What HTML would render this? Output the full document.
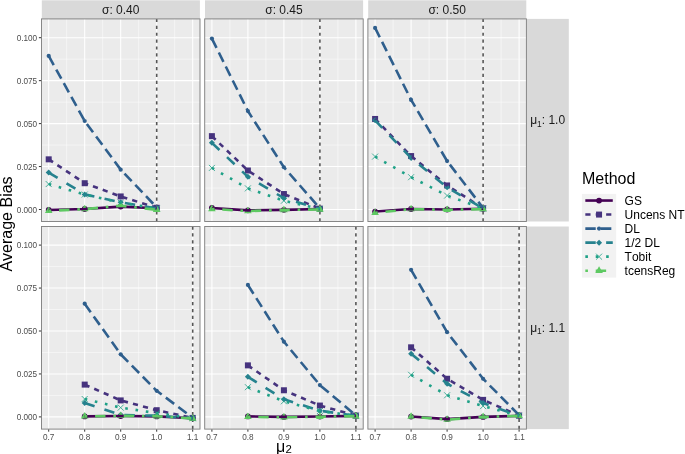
<!DOCTYPE html>
<html lang="en">
<head>
<meta charset="utf-8">
<title>Average Bias by Method</title>
<style>
html,body{margin:0;padding:0;background:#ffffff;}
body{width:685px;height:454px;overflow:hidden;}
svg{display:block;}
svg text{font-family:"Liberation Sans",sans-serif;font-kerning:none;}
.ax{font-size:8.2px;fill:#4d4d4d;}
.st{font-size:12px;fill:#1a1a1a;}
.sub{font-size:8.4px;}
.ti{font-size:16px;fill:#000000;}
.lt{font-size:16px;fill:#000000;}
.ll{font-size:12px;fill:#000000;}
</style>
</head>
<body>
<svg width="685" height="454" viewBox="0 0 685 454">
<rect x="0" y="0" width="685" height="454" fill="#ffffff"/>
<defs>
<clipPath id="cp00"><rect x="41.5" y="18.9" width="158.5" height="202.6"/></clipPath>
<clipPath id="cp01"><rect x="204.7" y="18.9" width="158.5" height="202.6"/></clipPath>
<clipPath id="cp02"><rect x="367.9" y="18.9" width="158.5" height="202.6"/></clipPath>
<clipPath id="cp10"><rect x="41.5" y="226.5" width="158.5" height="202.6"/></clipPath>
<clipPath id="cp11"><rect x="204.7" y="226.5" width="158.5" height="202.6"/></clipPath>
<clipPath id="cp12"><rect x="367.9" y="226.5" width="158.5" height="202.6"/></clipPath>
</defs>
<rect x="41.8" y="0.3" width="158.1" height="18.6" fill="#d9d9d9"/>
<text class="st" x="120.75" y="13.8" text-anchor="middle">σ: 0.40</text>
<rect x="205" y="0.3" width="158.1" height="18.6" fill="#d9d9d9"/>
<text class="st" x="283.95" y="13.8" text-anchor="middle">σ: 0.45</text>
<rect x="368.2" y="0.3" width="158.1" height="18.6" fill="#d9d9d9"/>
<text class="st" x="447.15" y="13.8" text-anchor="middle">σ: 0.50</text>
<rect x="526.4" y="18.9" width="42.4" height="202.6" fill="#d9d9d9"/>
<text class="st" x="530.2" y="123.9">μ<tspan class="sub" dy="2.6">1</tspan><tspan dy="-2.6">: 1.0</tspan></text>
<rect x="526.4" y="226.5" width="42.4" height="202.6" fill="#d9d9d9"/>
<text class="st" x="530.2" y="331.5">μ<tspan class="sub" dy="2.6">1</tspan><tspan dy="-2.6">: 1.1</tspan></text>
<g>
<rect x="41.5" y="18.9" width="158.5" height="202.6" fill="#ebebeb"/>
<path d="M41.5 188.03H200M41.5 145.07H200M41.5 102.12H200M41.5 59.18H200M66.7 18.9V221.5M102.7 18.9V221.5M138.7 18.9V221.5M174.7 18.9V221.5" stroke="#ffffff" stroke-width="0.55" stroke-opacity="0.9" fill="none"/>
<path d="M41.5 209.5H200M41.5 166.55H200M41.5 123.6H200M41.5 80.65H200M41.5 37.7H200M48.7 18.9V221.5M84.7 18.9V221.5M120.7 18.9V221.5M156.7 18.9V221.5M192.7 18.9V221.5" stroke="#ffffff" stroke-width="1.07" fill="none"/>
<path d="M156.7 18.9V221.5" stroke="#565656" stroke-width="1.6" stroke-dasharray="3.2 3.67" fill="none"/>
<g clip-path="url(#cp00)">
<circle cx="48.7" cy="210.02" r="2.9" fill="#440154"/>
<circle cx="84.7" cy="208.98" r="2.9" fill="#440154"/>
<circle cx="120.7" cy="206.58" r="2.9" fill="#440154"/>
<circle cx="156.7" cy="208.3" r="2.9" fill="#440154"/>
<rect x="45.7" y="156.33" width="6" height="6" fill="#46337e"/>
<rect x="81.7" y="180.21" width="6" height="6" fill="#46337e"/>
<rect x="117.7" y="193.44" width="6" height="6" fill="#46337e"/>
<rect x="153.7" y="204.78" width="6" height="6" fill="#46337e"/>
<circle cx="48.7" cy="55.91" r="2.1" fill="#2f5f8d"/>
<circle cx="84.7" cy="121.02" r="2.1" fill="#2f5f8d"/>
<circle cx="120.7" cy="169.64" r="2.1" fill="#2f5f8d"/>
<circle cx="156.7" cy="207.44" r="2.1" fill="#2f5f8d"/>
<path d="M48.7 169.56L51.7 172.56L48.7 175.56L45.7 172.56Z" fill="#26828e"/>
<path d="M84.7 191.38L87.7 194.38L84.7 197.38L81.7 194.38Z" fill="#26828e"/>
<path d="M120.7 199.28L123.7 202.28L120.7 205.28L117.7 202.28Z" fill="#26828e"/>
<path d="M156.7 205.47L159.7 208.47L156.7 211.47L153.7 208.47Z" fill="#26828e"/>
<path d="M45.7 181.07L51.7 187.07M45.7 187.07L51.7 181.07" stroke="#1fa187" stroke-width="0.8" fill="none"/>
<path d="M81.7 191.55L87.7 197.55M81.7 197.55L87.7 191.55" stroke="#1fa187" stroke-width="0.8" fill="none"/>
<path d="M117.7 199.63L123.7 205.63M117.7 205.63L123.7 199.63" stroke="#1fa187" stroke-width="0.8" fill="none"/>
<path d="M153.7 205.47L159.7 211.47M153.7 211.47L159.7 205.47" stroke="#1fa187" stroke-width="0.8" fill="none"/>
<path d="M48.7 206.47L52.51 213.07L44.89 213.07Z" fill="#5ec962"/>
<path d="M84.7 204.76L88.51 211.36L80.89 211.36Z" fill="#5ec962"/>
<path d="M120.7 201.32L124.51 207.92L116.89 207.92Z" fill="#5ec962"/>
<path d="M156.7 205.44L160.51 212.04L152.89 212.04Z" fill="#5ec962"/>
<path d="M48.7 210.02L84.7 208.98L120.7 206.58L156.7 208.3" stroke="#440154" stroke-width="2.6" stroke-linejoin="round" fill="none"/>
<path d="M48.7 159.33L84.7 183.21L120.7 196.44L156.7 207.78" stroke="#46337e" stroke-width="2.6" stroke-dasharray="5.2 5.2" stroke-linejoin="round" fill="none"/>
<path d="M48.7 55.91L84.7 121.02L120.7 169.64L156.7 207.44" stroke="#2f5f8d" stroke-width="2.6" stroke-dasharray="10.4 5.2" stroke-linejoin="round" fill="none"/>
<path d="M48.7 172.56L84.7 194.38L120.7 202.28L156.7 208.47" stroke="#26828e" stroke-width="2.6" stroke-dasharray="10.4 10.4" stroke-linejoin="round" fill="none"/>
<path d="M48.7 184.07L84.7 194.55L120.7 202.63L156.7 208.47" stroke="#1fa187" stroke-width="2.6" stroke-dasharray="2.6 7.8" stroke-linejoin="round" fill="none"/>
<path d="M48.7 210.87L84.7 209.16L120.7 205.72L156.7 209.84" stroke="#5ec962" stroke-width="2.6" stroke-dasharray="2.6 7.8 10.4 7.8" stroke-linejoin="round" fill="none"/>
</g>
<rect x="41.5" y="18.9" width="158.5" height="202.6" fill="none" stroke="#828282" stroke-width="0.95"/>
</g>
<g>
<rect x="204.7" y="18.9" width="158.5" height="202.6" fill="#ebebeb"/>
<path d="M204.7 188.03H363.2M204.7 145.07H363.2M204.7 102.12H363.2M204.7 59.18H363.2M229.9 18.9V221.5M265.9 18.9V221.5M301.9 18.9V221.5M337.9 18.9V221.5" stroke="#ffffff" stroke-width="0.55" stroke-opacity="0.9" fill="none"/>
<path d="M204.7 209.5H363.2M204.7 166.55H363.2M204.7 123.6H363.2M204.7 80.65H363.2M204.7 37.7H363.2M211.9 18.9V221.5M247.9 18.9V221.5M283.9 18.9V221.5M319.9 18.9V221.5M355.9 18.9V221.5" stroke="#ffffff" stroke-width="1.07" fill="none"/>
<path d="M319.9 18.9V221.5" stroke="#565656" stroke-width="1.6" stroke-dasharray="3.2 3.67" fill="none"/>
<g clip-path="url(#cp01)">
<circle cx="211.9" cy="207.95" r="2.9" fill="#440154"/>
<circle cx="247.9" cy="210.36" r="2.9" fill="#440154"/>
<circle cx="283.9" cy="209.84" r="2.9" fill="#440154"/>
<circle cx="319.9" cy="208.98" r="2.9" fill="#440154"/>
<rect x="208.9" y="133.14" width="6" height="6" fill="#46337e"/>
<rect x="244.9" y="167.5" width="6" height="6" fill="#46337e"/>
<rect x="280.9" y="191.04" width="6" height="6" fill="#46337e"/>
<rect x="316.9" y="205.64" width="6" height="6" fill="#46337e"/>
<circle cx="211.9" cy="38.56" r="2.1" fill="#2f5f8d"/>
<circle cx="247.9" cy="111.06" r="2.1" fill="#2f5f8d"/>
<circle cx="283.9" cy="167.24" r="2.1" fill="#2f5f8d"/>
<circle cx="319.9" cy="208.3" r="2.1" fill="#2f5f8d"/>
<path d="M211.9 139.84L214.9 142.84L211.9 145.84L208.9 142.84Z" fill="#26828e"/>
<path d="M247.9 173.86L250.9 176.86L247.9 179.86L244.9 176.86Z" fill="#26828e"/>
<path d="M283.9 195.16L286.9 198.16L283.9 201.16L280.9 198.16Z" fill="#26828e"/>
<path d="M319.9 205.98L322.9 208.98L319.9 211.98L316.9 208.98Z" fill="#26828e"/>
<path d="M208.9 164.92L214.9 170.92M208.9 170.92L214.9 164.92" stroke="#1fa187" stroke-width="0.8" fill="none"/>
<path d="M244.9 185.37L250.9 191.37M244.9 191.37L250.9 185.37" stroke="#1fa187" stroke-width="0.8" fill="none"/>
<path d="M280.9 197.74L286.9 203.74M280.9 203.74L286.9 197.74" stroke="#1fa187" stroke-width="0.8" fill="none"/>
<path d="M316.9 205.98L322.9 211.98M316.9 211.98L322.9 205.98" stroke="#1fa187" stroke-width="0.8" fill="none"/>
<path d="M211.9 204.58L215.71 211.18L208.09 211.18Z" fill="#5ec962"/>
<path d="M247.9 206.65L251.71 213.25L244.09 213.25Z" fill="#5ec962"/>
<path d="M283.9 205.62L287.71 212.22L280.09 212.22Z" fill="#5ec962"/>
<path d="M319.9 205.1L323.71 211.7L316.09 211.7Z" fill="#5ec962"/>
<path d="M211.9 207.95L247.9 210.36L283.9 209.84L319.9 208.98" stroke="#440154" stroke-width="2.6" stroke-linejoin="round" fill="none"/>
<path d="M211.9 136.14L247.9 170.5L283.9 194.04L319.9 208.64" stroke="#46337e" stroke-width="2.6" stroke-dasharray="5.2 5.2" stroke-linejoin="round" fill="none"/>
<path d="M211.9 38.56L247.9 111.06L283.9 167.24L319.9 208.3" stroke="#2f5f8d" stroke-width="2.6" stroke-dasharray="10.4 5.2" stroke-linejoin="round" fill="none"/>
<path d="M211.9 142.84L247.9 176.86L283.9 198.16L319.9 208.98" stroke="#26828e" stroke-width="2.6" stroke-dasharray="10.4 10.4" stroke-linejoin="round" fill="none"/>
<path d="M211.9 167.92L247.9 188.37L283.9 200.74L319.9 208.98" stroke="#1fa187" stroke-width="2.6" stroke-dasharray="2.6 7.8" stroke-linejoin="round" fill="none"/>
<path d="M211.9 208.98L247.9 211.05L283.9 210.02L319.9 209.5" stroke="#5ec962" stroke-width="2.6" stroke-dasharray="2.6 7.8 10.4 7.8" stroke-linejoin="round" fill="none"/>
</g>
<rect x="204.7" y="18.9" width="158.5" height="202.6" fill="none" stroke="#828282" stroke-width="0.95"/>
</g>
<g>
<rect x="367.9" y="18.9" width="158.5" height="202.6" fill="#ebebeb"/>
<path d="M367.9 188.03H526.4M367.9 145.07H526.4M367.9 102.12H526.4M367.9 59.18H526.4M393.1 18.9V221.5M429.1 18.9V221.5M465.1 18.9V221.5M501.1 18.9V221.5" stroke="#ffffff" stroke-width="0.55" stroke-opacity="0.9" fill="none"/>
<path d="M367.9 209.5H526.4M367.9 166.55H526.4M367.9 123.6H526.4M367.9 80.65H526.4M367.9 37.7H526.4M375.1 18.9V221.5M411.1 18.9V221.5M447.1 18.9V221.5M483.1 18.9V221.5M519.1 18.9V221.5" stroke="#ffffff" stroke-width="1.07" fill="none"/>
<path d="M483.1 18.9V221.5" stroke="#565656" stroke-width="1.6" stroke-dasharray="3.2 3.67" fill="none"/>
<g clip-path="url(#cp02)">
<circle cx="375.1" cy="211.56" r="2.9" fill="#440154"/>
<circle cx="411.1" cy="208.98" r="2.9" fill="#440154"/>
<circle cx="447.1" cy="209.5" r="2.9" fill="#440154"/>
<circle cx="483.1" cy="208.81" r="2.9" fill="#440154"/>
<rect x="372.1" y="115.96" width="6" height="6" fill="#46337e"/>
<rect x="408.1" y="153.07" width="6" height="6" fill="#46337e"/>
<rect x="444.1" y="182.45" width="6" height="6" fill="#46337e"/>
<rect x="480.1" y="205.3" width="6" height="6" fill="#46337e"/>
<circle cx="375.1" cy="27.91" r="2.1" fill="#2f5f8d"/>
<circle cx="411.1" cy="99.89" r="2.1" fill="#2f5f8d"/>
<circle cx="447.1" cy="161.05" r="2.1" fill="#2f5f8d"/>
<circle cx="483.1" cy="207.95" r="2.1" fill="#2f5f8d"/>
<path d="M375.1 117.34L378.1 120.34L375.1 123.34L372.1 120.34Z" fill="#26828e"/>
<path d="M411.1 154.96L414.1 157.96L411.1 160.96L408.1 157.96Z" fill="#26828e"/>
<path d="M447.1 184.34L450.1 187.34L447.1 190.34L444.1 187.34Z" fill="#26828e"/>
<path d="M483.1 205.47L486.1 208.47L483.1 211.47L480.1 208.47Z" fill="#26828e"/>
<path d="M372.1 153.59L378.1 159.59M372.1 159.59L378.1 153.59" stroke="#1fa187" stroke-width="0.8" fill="none"/>
<path d="M408.1 174.2L414.1 180.2M408.1 180.2L414.1 174.2" stroke="#1fa187" stroke-width="0.8" fill="none"/>
<path d="M444.1 192.58L450.1 198.58M444.1 198.58L450.1 192.58" stroke="#1fa187" stroke-width="0.8" fill="none"/>
<path d="M480.1 205.47L486.1 211.47M480.1 211.47L486.1 205.47" stroke="#1fa187" stroke-width="0.8" fill="none"/>
<path d="M375.1 208.36L378.91 214.96L371.29 214.96Z" fill="#5ec962"/>
<path d="M411.1 204.76L414.91 211.36L407.29 211.36Z" fill="#5ec962"/>
<path d="M447.1 205.44L450.91 212.04L443.29 212.04Z" fill="#5ec962"/>
<path d="M483.1 204.76L486.91 211.36L479.29 211.36Z" fill="#5ec962"/>
<path d="M375.1 211.56L411.1 208.98L447.1 209.5L483.1 208.81" stroke="#440154" stroke-width="2.6" stroke-linejoin="round" fill="none"/>
<path d="M375.1 118.96L411.1 156.07L447.1 185.45L483.1 208.3" stroke="#46337e" stroke-width="2.6" stroke-dasharray="5.2 5.2" stroke-linejoin="round" fill="none"/>
<path d="M375.1 27.91L411.1 99.89L447.1 161.05L483.1 207.95" stroke="#2f5f8d" stroke-width="2.6" stroke-dasharray="10.4 5.2" stroke-linejoin="round" fill="none"/>
<path d="M375.1 120.34L411.1 157.96L447.1 187.34L483.1 208.47" stroke="#26828e" stroke-width="2.6" stroke-dasharray="10.4 10.4" stroke-linejoin="round" fill="none"/>
<path d="M375.1 156.59L411.1 177.2L447.1 195.58L483.1 208.47" stroke="#1fa187" stroke-width="2.6" stroke-dasharray="2.6 7.8" stroke-linejoin="round" fill="none"/>
<path d="M375.1 212.76L411.1 209.16L447.1 209.84L483.1 209.16" stroke="#5ec962" stroke-width="2.6" stroke-dasharray="2.6 7.8 10.4 7.8" stroke-linejoin="round" fill="none"/>
</g>
<rect x="367.9" y="18.9" width="158.5" height="202.6" fill="none" stroke="#828282" stroke-width="0.95"/>
</g>
<g>
<rect x="41.5" y="226.5" width="158.5" height="202.6" fill="#ebebeb"/>
<path d="M41.5 395.42H200M41.5 352.47H200M41.5 309.52H200M41.5 266.57H200M66.7 226.5V429.1M102.7 226.5V429.1M138.7 226.5V429.1M174.7 226.5V429.1" stroke="#ffffff" stroke-width="0.55" stroke-opacity="0.9" fill="none"/>
<path d="M41.5 416.9H200M41.5 373.95H200M41.5 331H200M41.5 288.05H200M41.5 245.1H200M48.7 226.5V429.1M84.7 226.5V429.1M120.7 226.5V429.1M156.7 226.5V429.1M192.7 226.5V429.1" stroke="#ffffff" stroke-width="1.07" fill="none"/>
<path d="M192.7 226.5V429.1" stroke="#565656" stroke-width="1.6" stroke-dasharray="3.2 3.67" fill="none"/>
<g clip-path="url(#cp10)">
<circle cx="84.7" cy="416.38" r="2.9" fill="#440154"/>
<circle cx="120.7" cy="416.04" r="2.9" fill="#440154"/>
<circle cx="156.7" cy="416.38" r="2.9" fill="#440154"/>
<circle cx="192.7" cy="418.27" r="2.9" fill="#440154"/>
<rect x="81.7" y="381.6" width="6" height="6" fill="#46337e"/>
<rect x="117.7" y="397.41" width="6" height="6" fill="#46337e"/>
<rect x="153.7" y="407.2" width="6" height="6" fill="#46337e"/>
<rect x="189.7" y="414.93" width="6" height="6" fill="#46337e"/>
<circle cx="84.7" cy="303.68" r="2.1" fill="#2f5f8d"/>
<circle cx="120.7" cy="354.36" r="2.1" fill="#2f5f8d"/>
<circle cx="156.7" cy="390.79" r="2.1" fill="#2f5f8d"/>
<circle cx="192.7" cy="417.76" r="2.1" fill="#2f5f8d"/>
<path d="M84.7 399.98L87.7 402.98L84.7 405.98L81.7 402.98Z" fill="#26828e"/>
<path d="M120.7 411.84L123.7 414.84L120.7 417.84L117.7 414.84Z" fill="#26828e"/>
<path d="M156.7 412.7L159.7 415.7L156.7 418.7L153.7 415.7Z" fill="#26828e"/>
<path d="M192.7 415.45L195.7 418.45L192.7 421.45L189.7 418.45Z" fill="#26828e"/>
<path d="M81.7 396.03L87.7 402.03M81.7 402.03L87.7 396.03" stroke="#1fa187" stroke-width="0.8" fill="none"/>
<path d="M117.7 404.62L123.7 410.62M117.7 410.62L123.7 404.62" stroke="#1fa187" stroke-width="0.8" fill="none"/>
<path d="M153.7 410.12L159.7 416.12M153.7 416.12L159.7 410.12" stroke="#1fa187" stroke-width="0.8" fill="none"/>
<path d="M189.7 415.27L195.7 421.27M189.7 421.27L195.7 415.27" stroke="#1fa187" stroke-width="0.8" fill="none"/>
<path d="M84.7 411.98L88.51 418.58L80.89 418.58Z" fill="#5ec962"/>
<path d="M120.7 411.47L124.51 418.07L116.89 418.07Z" fill="#5ec962"/>
<path d="M156.7 411.81L160.51 418.41L152.89 418.41Z" fill="#5ec962"/>
<path d="M192.7 414.05L196.51 420.65L188.89 420.65Z" fill="#5ec962"/>
<path d="M84.7 416.38L120.7 416.04L156.7 416.38L192.7 418.27" stroke="#440154" stroke-width="2.6" stroke-linejoin="round" fill="none"/>
<path d="M84.7 384.6L120.7 400.41L156.7 410.2L192.7 417.93" stroke="#46337e" stroke-width="2.6" stroke-dasharray="5.2 5.2" stroke-linejoin="round" fill="none"/>
<path d="M84.7 303.68L120.7 354.36L156.7 390.79L192.7 417.76" stroke="#2f5f8d" stroke-width="2.6" stroke-dasharray="10.4 5.2" stroke-linejoin="round" fill="none"/>
<path d="M84.7 402.98L120.7 414.84L156.7 415.7L192.7 418.45" stroke="#26828e" stroke-width="2.6" stroke-dasharray="10.4 10.4" stroke-linejoin="round" fill="none"/>
<path d="M84.7 399.03L120.7 407.62L156.7 413.12L192.7 418.27" stroke="#1fa187" stroke-width="2.6" stroke-dasharray="2.6 7.8" stroke-linejoin="round" fill="none"/>
<path d="M84.7 416.38L120.7 415.87L156.7 416.21L192.7 418.45" stroke="#5ec962" stroke-width="2.6" stroke-dasharray="2.6 7.8 10.4 7.8" stroke-linejoin="round" fill="none"/>
</g>
<rect x="41.5" y="226.5" width="158.5" height="202.6" fill="none" stroke="#828282" stroke-width="0.95"/>
</g>
<g>
<rect x="204.7" y="226.5" width="158.5" height="202.6" fill="#ebebeb"/>
<path d="M204.7 395.42H363.2M204.7 352.47H363.2M204.7 309.52H363.2M204.7 266.57H363.2M229.9 226.5V429.1M265.9 226.5V429.1M301.9 226.5V429.1M337.9 226.5V429.1" stroke="#ffffff" stroke-width="0.55" stroke-opacity="0.9" fill="none"/>
<path d="M204.7 416.9H363.2M204.7 373.95H363.2M204.7 331H363.2M204.7 288.05H363.2M204.7 245.1H363.2M211.9 226.5V429.1M247.9 226.5V429.1M283.9 226.5V429.1M319.9 226.5V429.1M355.9 226.5V429.1" stroke="#ffffff" stroke-width="1.07" fill="none"/>
<path d="M355.9 226.5V429.1" stroke="#565656" stroke-width="1.6" stroke-dasharray="3.2 3.67" fill="none"/>
<g clip-path="url(#cp11)">
<circle cx="247.9" cy="416.38" r="2.9" fill="#440154"/>
<circle cx="283.9" cy="416.9" r="2.9" fill="#440154"/>
<circle cx="319.9" cy="416.56" r="2.9" fill="#440154"/>
<circle cx="355.9" cy="415.87" r="2.9" fill="#440154"/>
<rect x="244.9" y="362.36" width="6" height="6" fill="#46337e"/>
<rect x="280.9" y="387.27" width="6" height="6" fill="#46337e"/>
<rect x="316.9" y="402.56" width="6" height="6" fill="#46337e"/>
<rect x="352.9" y="412.53" width="6" height="6" fill="#46337e"/>
<circle cx="247.9" cy="284.96" r="2.1" fill="#2f5f8d"/>
<circle cx="283.9" cy="341.65" r="2.1" fill="#2f5f8d"/>
<circle cx="319.9" cy="385.12" r="2.1" fill="#2f5f8d"/>
<circle cx="355.9" cy="415.35" r="2.1" fill="#2f5f8d"/>
<path d="M247.9 373.87L250.9 376.87L247.9 379.87L244.9 376.87Z" fill="#26828e"/>
<path d="M283.9 396.2L286.9 399.2L283.9 402.2L280.9 399.2Z" fill="#26828e"/>
<path d="M319.9 407.72L322.9 410.72L319.9 413.72L316.9 410.72Z" fill="#26828e"/>
<path d="M355.9 412.87L358.9 415.87L355.9 418.87L352.9 415.87Z" fill="#26828e"/>
<path d="M244.9 384.18L250.9 390.18M244.9 390.18L250.9 384.18" stroke="#1fa187" stroke-width="0.8" fill="none"/>
<path d="M280.9 398.27L286.9 404.27M280.9 404.27L286.9 398.27" stroke="#1fa187" stroke-width="0.8" fill="none"/>
<path d="M316.9 408.06L322.9 414.06M316.9 414.06L322.9 408.06" stroke="#1fa187" stroke-width="0.8" fill="none"/>
<path d="M352.9 412.87L358.9 418.87M352.9 418.87L358.9 412.87" stroke="#1fa187" stroke-width="0.8" fill="none"/>
<path d="M247.9 412.5L251.71 419.1L244.09 419.1Z" fill="#5ec962"/>
<path d="M283.9 412.84L287.71 419.44L280.09 419.44Z" fill="#5ec962"/>
<path d="M319.9 412.33L323.71 418.93L316.09 418.93Z" fill="#5ec962"/>
<path d="M355.9 411.81L359.71 418.41L352.09 418.41Z" fill="#5ec962"/>
<path d="M247.9 416.38L283.9 416.9L319.9 416.56L355.9 415.87" stroke="#440154" stroke-width="2.6" stroke-linejoin="round" fill="none"/>
<path d="M247.9 365.36L283.9 390.27L319.9 405.56L355.9 415.53" stroke="#46337e" stroke-width="2.6" stroke-dasharray="5.2 5.2" stroke-linejoin="round" fill="none"/>
<path d="M247.9 284.96L283.9 341.65L319.9 385.12L355.9 415.35" stroke="#2f5f8d" stroke-width="2.6" stroke-dasharray="10.4 5.2" stroke-linejoin="round" fill="none"/>
<path d="M247.9 376.87L283.9 399.2L319.9 410.72L355.9 415.87" stroke="#26828e" stroke-width="2.6" stroke-dasharray="10.4 10.4" stroke-linejoin="round" fill="none"/>
<path d="M247.9 387.18L283.9 401.27L319.9 411.06L355.9 415.87" stroke="#1fa187" stroke-width="2.6" stroke-dasharray="2.6 7.8" stroke-linejoin="round" fill="none"/>
<path d="M247.9 416.9L283.9 417.24L319.9 416.73L355.9 416.21" stroke="#5ec962" stroke-width="2.6" stroke-dasharray="2.6 7.8 10.4 7.8" stroke-linejoin="round" fill="none"/>
</g>
<rect x="204.7" y="226.5" width="158.5" height="202.6" fill="none" stroke="#828282" stroke-width="0.95"/>
</g>
<g>
<rect x="367.9" y="226.5" width="158.5" height="202.6" fill="#ebebeb"/>
<path d="M367.9 395.42H526.4M367.9 352.47H526.4M367.9 309.52H526.4M367.9 266.57H526.4M393.1 226.5V429.1M429.1 226.5V429.1M465.1 226.5V429.1M501.1 226.5V429.1" stroke="#ffffff" stroke-width="0.55" stroke-opacity="0.9" fill="none"/>
<path d="M367.9 416.9H526.4M367.9 373.95H526.4M367.9 331H526.4M367.9 288.05H526.4M367.9 245.1H526.4M375.1 226.5V429.1M411.1 226.5V429.1M447.1 226.5V429.1M483.1 226.5V429.1M519.1 226.5V429.1" stroke="#ffffff" stroke-width="1.07" fill="none"/>
<path d="M519.1 226.5V429.1" stroke="#565656" stroke-width="1.6" stroke-dasharray="3.2 3.67" fill="none"/>
<g clip-path="url(#cp12)">
<circle cx="411.1" cy="416.56" r="2.9" fill="#440154"/>
<circle cx="447.1" cy="419.13" r="2.9" fill="#440154"/>
<circle cx="483.1" cy="416.9" r="2.9" fill="#440154"/>
<circle cx="519.1" cy="415.87" r="2.9" fill="#440154"/>
<rect x="408.1" y="344.32" width="6" height="6" fill="#46337e"/>
<rect x="444.1" y="375.76" width="6" height="6" fill="#46337e"/>
<rect x="480.1" y="396.89" width="6" height="6" fill="#46337e"/>
<rect x="516.1" y="412.53" width="6" height="6" fill="#46337e"/>
<circle cx="411.1" cy="269.84" r="2.1" fill="#2f5f8d"/>
<circle cx="447.1" cy="332.2" r="2.1" fill="#2f5f8d"/>
<circle cx="483.1" cy="378.76" r="2.1" fill="#2f5f8d"/>
<circle cx="519.1" cy="415.18" r="2.1" fill="#2f5f8d"/>
<path d="M411.1 350.68L414.1 353.68L411.1 356.68L408.1 353.68Z" fill="#26828e"/>
<path d="M447.1 380.74L450.1 383.74L447.1 386.74L444.1 383.74Z" fill="#26828e"/>
<path d="M483.1 399.98L486.1 402.98L483.1 405.98L480.1 402.98Z" fill="#26828e"/>
<path d="M519.1 412.87L522.1 415.87L519.1 418.87L516.1 415.87Z" fill="#26828e"/>
<path d="M408.1 371.81L414.1 377.81M408.1 377.81L414.1 371.81" stroke="#1fa187" stroke-width="0.8" fill="none"/>
<path d="M444.1 392.25L450.1 398.25M444.1 398.25L450.1 392.25" stroke="#1fa187" stroke-width="0.8" fill="none"/>
<path d="M480.1 403.08L486.1 409.08M480.1 409.08L486.1 403.08" stroke="#1fa187" stroke-width="0.8" fill="none"/>
<path d="M516.1 412.87L522.1 418.87M516.1 418.87L522.1 412.87" stroke="#1fa187" stroke-width="0.8" fill="none"/>
<path d="M411.1 412.16L414.91 418.76L407.29 418.76Z" fill="#5ec962"/>
<path d="M447.1 415.25L450.91 421.85L443.29 421.85Z" fill="#5ec962"/>
<path d="M483.1 412.5L486.91 419.1L479.29 419.1Z" fill="#5ec962"/>
<path d="M519.1 411.47L522.91 418.07L515.29 418.07Z" fill="#5ec962"/>
<path d="M411.1 416.56L447.1 419.13L483.1 416.9L519.1 415.87" stroke="#440154" stroke-width="2.6" stroke-linejoin="round" fill="none"/>
<path d="M411.1 347.32L447.1 378.76L483.1 399.89L519.1 415.53" stroke="#46337e" stroke-width="2.6" stroke-dasharray="5.2 5.2" stroke-linejoin="round" fill="none"/>
<path d="M411.1 269.84L447.1 332.2L483.1 378.76L519.1 415.18" stroke="#2f5f8d" stroke-width="2.6" stroke-dasharray="10.4 5.2" stroke-linejoin="round" fill="none"/>
<path d="M411.1 353.68L447.1 383.74L483.1 402.98L519.1 415.87" stroke="#26828e" stroke-width="2.6" stroke-dasharray="10.4 10.4" stroke-linejoin="round" fill="none"/>
<path d="M411.1 374.81L447.1 395.25L483.1 406.08L519.1 415.87" stroke="#1fa187" stroke-width="2.6" stroke-dasharray="2.6 7.8" stroke-linejoin="round" fill="none"/>
<path d="M411.1 416.56L447.1 419.65L483.1 416.9L519.1 415.87" stroke="#5ec962" stroke-width="2.6" stroke-dasharray="2.6 7.8 10.4 7.8" stroke-linejoin="round" fill="none"/>
</g>
<rect x="367.9" y="226.5" width="158.5" height="202.6" fill="none" stroke="#828282" stroke-width="0.95"/>
</g>
<text class="ax" x="37.2" y="212.7" text-anchor="end">0.000</text>
<text class="ax" x="37.2" y="169.75" text-anchor="end">0.025</text>
<text class="ax" x="37.2" y="126.8" text-anchor="end">0.050</text>
<text class="ax" x="37.2" y="83.85" text-anchor="end">0.075</text>
<text class="ax" x="37.2" y="40.9" text-anchor="end">0.100</text>
<path d="M38.9 209.5H41.1M38.9 166.55H41.1M38.9 123.6H41.1M38.9 80.65H41.1M38.9 37.7H41.1" stroke="#333333" stroke-width="1" fill="none"/>
<text class="ax" x="37.2" y="420.1" text-anchor="end">0.000</text>
<text class="ax" x="37.2" y="377.15" text-anchor="end">0.025</text>
<text class="ax" x="37.2" y="334.2" text-anchor="end">0.050</text>
<text class="ax" x="37.2" y="291.25" text-anchor="end">0.075</text>
<text class="ax" x="37.2" y="248.3" text-anchor="end">0.100</text>
<path d="M38.9 416.9H41.1M38.9 373.95H41.1M38.9 331H41.1M38.9 288.05H41.1M38.9 245.1H41.1" stroke="#333333" stroke-width="1" fill="none"/>
<text class="ax" x="48.7" y="439.8" text-anchor="middle">0.7</text>
<text class="ax" x="84.7" y="439.8" text-anchor="middle">0.8</text>
<text class="ax" x="120.7" y="439.8" text-anchor="middle">0.9</text>
<text class="ax" x="156.7" y="439.8" text-anchor="middle">1.0</text>
<text class="ax" x="192.7" y="439.8" text-anchor="middle">1.1</text>
<path d="M48.7 429.5V431.7M84.7 429.5V431.7M120.7 429.5V431.7M156.7 429.5V431.7M192.7 429.5V431.7" stroke="#333333" stroke-width="1" fill="none"/>
<text class="ax" x="211.9" y="439.8" text-anchor="middle">0.7</text>
<text class="ax" x="247.9" y="439.8" text-anchor="middle">0.8</text>
<text class="ax" x="283.9" y="439.8" text-anchor="middle">0.9</text>
<text class="ax" x="319.9" y="439.8" text-anchor="middle">1.0</text>
<text class="ax" x="355.9" y="439.8" text-anchor="middle">1.1</text>
<path d="M211.9 429.5V431.7M247.9 429.5V431.7M283.9 429.5V431.7M319.9 429.5V431.7M355.9 429.5V431.7" stroke="#333333" stroke-width="1" fill="none"/>
<text class="ax" x="375.1" y="439.8" text-anchor="middle">0.7</text>
<text class="ax" x="411.1" y="439.8" text-anchor="middle">0.8</text>
<text class="ax" x="447.1" y="439.8" text-anchor="middle">0.9</text>
<text class="ax" x="483.1" y="439.8" text-anchor="middle">1.0</text>
<text class="ax" x="519.1" y="439.8" text-anchor="middle">1.1</text>
<path d="M375.1 429.5V431.7M411.1 429.5V431.7M447.1 429.5V431.7M483.1 429.5V431.7M519.1 429.5V431.7" stroke="#333333" stroke-width="1" fill="none"/>
<text class="ti" transform="translate(12.3 224) rotate(-90)" text-anchor="middle">Average Bias</text>
<text class="ti" x="276" y="451.6">μ<tspan style="font-size:11.4px" dx="0.4" dy="1.8">2</tspan></text>
<text class="lt" x="582" y="183.8">Method</text>
<rect x="581.9" y="193.9" width="34.3" height="83.7" fill="#f2f2f2"/>
<path d="M585.33 200.54H612.77" stroke="#440154" stroke-width="2.6" fill="none"/>
<circle cx="599.05" cy="200.54" r="2.9" fill="#440154"/>
<text class="ll" x="624.6" y="205.04">GS</text>
<path d="M585.33 214.57H612.77" stroke="#46337e" stroke-width="2.6" stroke-dasharray="5.2 5.2" fill="none"/>
<rect x="596.05" y="211.57" width="6" height="6" fill="#46337e"/>
<text class="ll" x="624.6" y="219.07">Uncens NT</text>
<path d="M585.33 228.6H612.77" stroke="#2f5f8d" stroke-width="2.6" stroke-dasharray="10.4 5.2" fill="none"/>
<circle cx="599.05" cy="228.6" r="2.1" fill="#2f5f8d"/>
<text class="ll" x="624.6" y="233.1">DL</text>
<path d="M585.33 242.63H612.77" stroke="#26828e" stroke-width="2.6" stroke-dasharray="10.4 10.4" fill="none"/>
<path d="M599.05 239.63L602.05 242.63L599.05 245.63L596.05 242.63Z" fill="#26828e"/>
<text class="ll" x="624.6" y="247.13">1/2 DL</text>
<path d="M585.33 256.67H612.77" stroke="#1fa187" stroke-width="2.6" stroke-dasharray="2.6 7.8" fill="none"/>
<path d="M596.05 253.67L602.05 259.67M596.05 259.67L602.05 253.67" stroke="#1fa187" stroke-width="0.8" fill="none"/>
<text class="ll" x="624.6" y="261.17">Tobit</text>
<path d="M585.33 270.69H612.77" stroke="#5ec962" stroke-width="2.6" stroke-dasharray="2.6 7.8 10.4 7.8" fill="none"/>
<path d="M599.05 266.3L602.86 272.89L595.24 272.89Z" fill="#5ec962"/>
<text class="ll" x="624.6" y="275.19">tcensReg</text>
</svg>
</body>
</html>
